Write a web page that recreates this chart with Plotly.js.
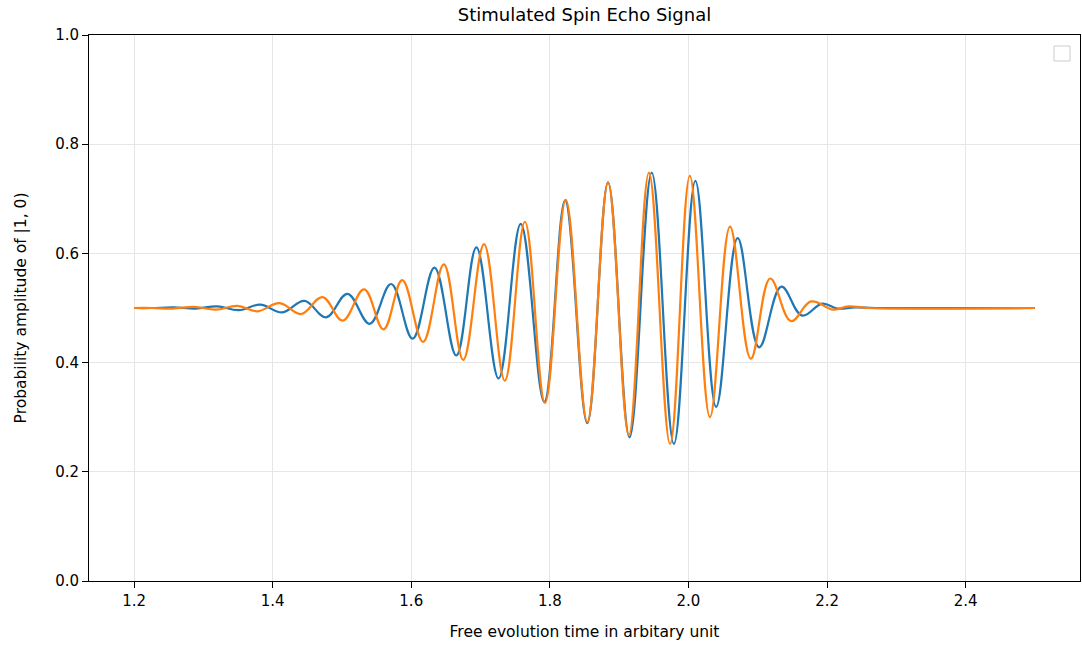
<!DOCTYPE html>
<html>
<head>
<meta charset="utf-8">
<script src="https://cdn.plot.ly/plotly-3.0.1.min.js"></script>
<style>
html,body{margin:0;padding:0;background:#fff;}
#chart{width:1082px;height:650px;}
</style>
</head>
<body>
<div id="chart"></div>
<script>
// Signal extrema (x: free evolution time, y: amplitude)
const blueX = [1.20, 1.225, 1.257, 1.289, 1.320, 1.351, 1.382, 1.414, 1.446, 1.477, 1.508, 1.540, 1.571, 1.602, 1.6335, 1.665, 1.694, 1.726, 1.758, 1.792, 1.822, 1.854, 1.884, 1.915, 1.947, 1.979, 2.010, 2.040, 2.071, 2.102, 2.134, 2.164, 2.193, 2.215, 2.24, 2.27, 2.50];
const blueY = [0.500, 0.500, 0.501, 0.499, 0.503, 0.496, 0.506, 0.492, 0.513, 0.483, 0.526, 0.471, 0.544, 0.444, 0.574, 0.413, 0.611, 0.371, 0.654, 0.328, 0.697, 0.289, 0.730, 0.263, 0.748, 0.251, 0.733, 0.319, 0.628, 0.428, 0.539, 0.486, 0.508, 0.499, 0.501, 0.500, 0.500];
const orangeX = [1.20, 1.225, 1.256, 1.287, 1.318, 1.349, 1.378, 1.410, 1.441, 1.472, 1.501, 1.532, 1.560, 1.587, 1.617, 1.647, 1.675, 1.705, 1.735, 1.764, 1.793, 1.823, 1.854, 1.884, 1.914, 1.943, 1.9735, 2.002, 2.031, 2.060, 2.090, 2.118, 2.148, 2.177, 2.209, 2.231, 2.26, 2.50];
const orangeY = [0.500, 0.500, 0.499, 0.502, 0.497, 0.504, 0.494, 0.509, 0.489, 0.520, 0.477, 0.534, 0.461, 0.551, 0.438, 0.580, 0.405, 0.617, 0.367, 0.658, 0.326, 0.698, 0.291, 0.730, 0.267, 0.748, 0.251, 0.742, 0.300, 0.649, 0.407, 0.554, 0.476, 0.512, 0.497, 0.503, 0.500, 0.500];
const xTicks = [1.2, 1.4, 1.6, 1.8, 2.0, 2.2, 2.4];
const yTicks = [0.0, 0.2, 0.4, 0.6, 0.8, 1.0];

const font = "DejaVu Sans, sans-serif";
const traces = [
  {x: blueX, y: blueY, type: 'scatter', mode: 'lines', line: {color: '#1f77b4', width: 2.2, shape: 'spline', smoothing: 1.1}, showlegend: false},
  {x: orangeX, y: orangeY, type: 'scatter', mode: 'lines', line: {color: '#ff7f0e', width: 2.2, shape: 'spline', smoothing: 1.1}, showlegend: false}
];
const axisCommon = {
  showline: true, linecolor: '#000', linewidth: 1, mirror: true,
  ticks: 'outside', ticklen: 6, tickcolor: '#000', tickwidth: 1,
  showgrid: true, gridcolor: '#e6e6e6', gridwidth: 1, zeroline: false,
  tickfont: {family: font, size: 15, color: '#000'}
};
const layout = {
  width: 1082, height: 650,
  margin: {l: 89, r: 2, t: 35, b: 69},
  paper_bgcolor: '#fff', plot_bgcolor: '#fff',
  title: {text: 'Stimulated Spin Echo Signal', font: {family: font, size: 18, color: '#000'}, x: 0.5, xref: 'paper', y: 0.977, yanchor: 'middle'},
  xaxis: Object.assign({}, axisCommon, {
    range: [1.135, 2.565], tickvals: xTicks, tickformat: '.1f',
    title: {text: 'Free evolution time in arbitary unit', font: {family: font, size: 15.5, color: '#000'}, standoff: 17}
  }),
  yaxis: Object.assign({}, axisCommon, {
    range: [0, 1], tickvals: yTicks, tickformat: '.1f',
    title: {text: 'Probability amplitude of |1, 0)', font: {family: font, size: 15.5, color: '#000'}, standoff: 24}
  }),
  shapes: [{
    type: 'rect', xref: 'paper', yref: 'paper',
    x0: 0.9738, x1: 0.9899, y0: 0.9524, y1: 0.9799,
    line: {color: '#cccccc', width: 1}, fillcolor: 'rgba(255,255,255,0.8)'
  }],
  showlegend: false
};
Plotly.newPlot('chart', traces, layout, {displayModeBar: false, staticPlot: true});
</script>
</body>
</html>
